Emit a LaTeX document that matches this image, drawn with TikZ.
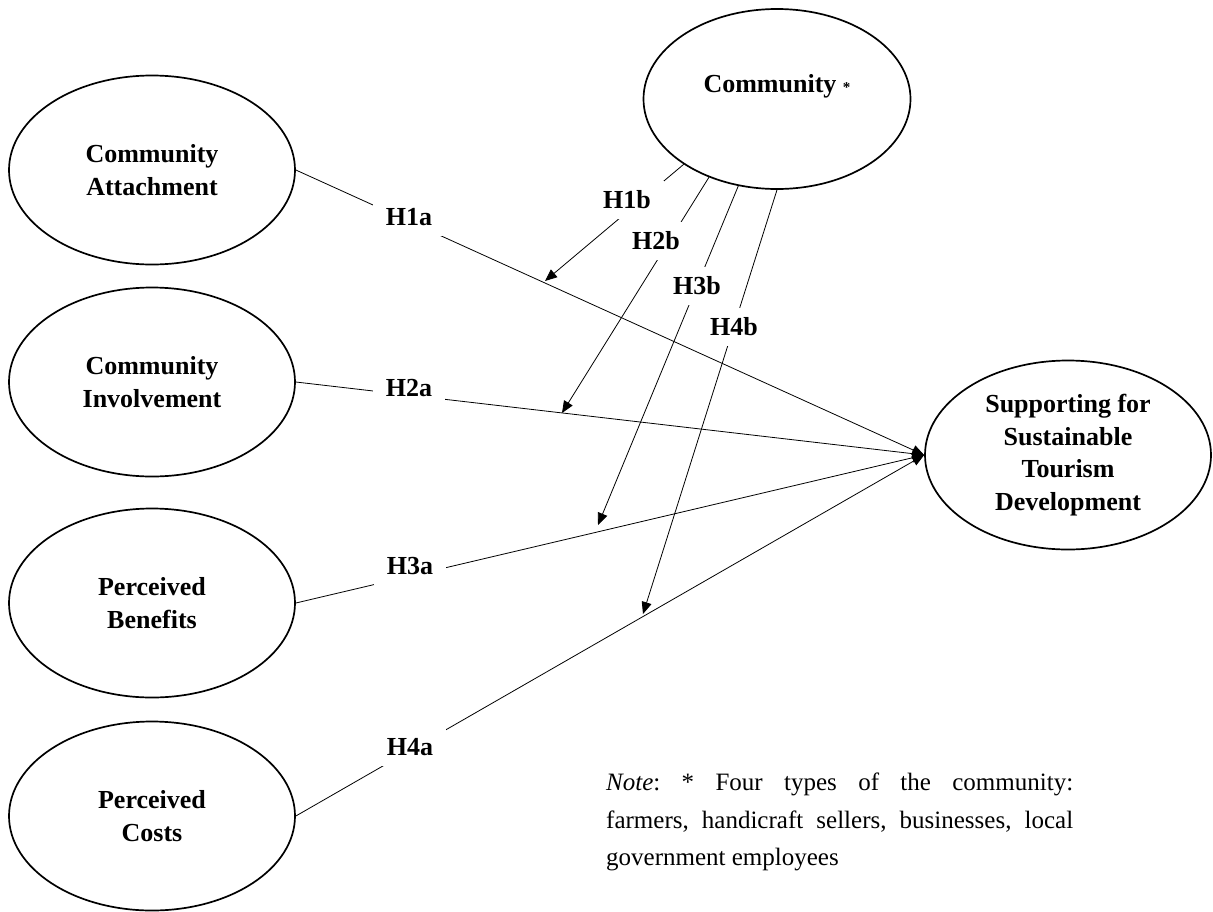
\documentclass[tikz,border=0pt]{standalone}
\usepackage{fontspec}
\setmainfont{Liberation Serif}
\usetikzlibrary{shapes.geometric,arrows.meta}
\begin{document}
\begin{tikzpicture}[x=1pt,y=-1pt,
  lat/.style={draw, ellipse, line width=1.7pt, inner sep=0pt, minimum width=286pt, minimum height=189pt, align=center, font=\fontsize{26}{32.5}\selectfont\bfseries},
  hlab/.style={fill=white, inner xsep=13pt, inner ysep=10pt, font=\fontsize{26}{32}\selectfont\bfseries},
  conn/.style={line width=0.8pt},
  arr/.style={conn, -{Triangle[length=12pt,width=10pt]}}
]
\useasboundingbox (0,0) rectangle (1213,911);

% latent variables
\node[lat] (ca) at (152,170) {Community\\Attachment};
\node[lat] (ci) at (152,382) {Community\\Involvement};
\node[lat] (pb) at (152,603) {Perceived\\Benefits};
\node[lat] (pc) at (152,816) {Perceived\\Costs};
\node[lat, minimum width=267pt, minimum height=180pt, align=none, text depth=32pt] (com) at (777,99) {Community {\fontsize{15}{15}\selectfont *}};
\node[lat] (sup) at (1068,455) {Supporting for\\Sustainable\\Tourism\\Development};

% arrow tips on the direct paths
\coordinate (t1) at (545,281);
\coordinate (t2) at (562,413);
\coordinate (t3) at (598,525);
\coordinate (t4) at (643,614);

% direct effects
\draw[arr] (ca.east) -- (sup.west);
\draw[arr] (ci.east) -- (sup.west);
\draw[arr] (pb.east) -- (sup.west);
\draw[arr] (pc.east) -- (sup.west);

% moderating effects
\draw[arr] (com.215) -- (t1);
\draw[arr] (com.229.6) -- (t2);
\draw[arr] (com.246.6) -- (t3);
\draw[arr] (com.270) -- (t4);

% labels
\node[hlab] (h1a) at (409,217) {H1a};
\node[hlab] (h2a) at (409,388) {H2a};
\node[hlab] (h3a) at (410,566) {H3a};
\node[hlab] (h4a) at (410,747) {H4a};
\node[hlab] (h1b) at (627,200) {H1b};
\node[hlab] (h2b) at (656,241) {H2b};
\node[hlab] (h3b) at (697,286) {H3b};
\node[hlab] (h4b) at (734,327) {H4b};

% note
\node[anchor=north west, inner sep=0pt, align=left, font=\fontsize{25}{37.5}\selectfont] (note) at (606,773)
  {\hbox to 467pt{\textit{Note}:\hfill*\hfill Four\hfill types\hfill of\hfill the\hfill community:}\\
   \hbox to 467pt{farmers,\hfill handicraft\hfill sellers,\hfill businesses,\hfill local}\\
   government employees};
\end{tikzpicture}
\end{document}
